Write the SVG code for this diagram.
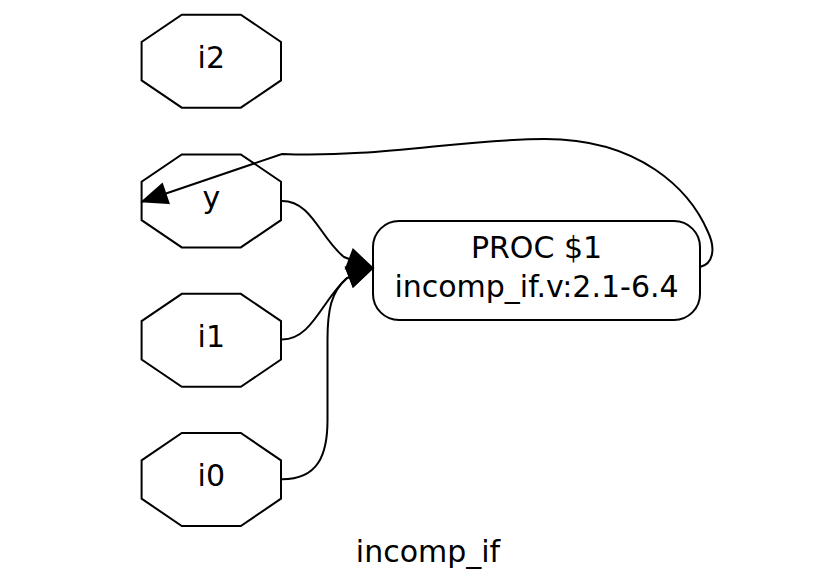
<svg xmlns="http://www.w3.org/2000/svg" width="834" height="580" viewBox="0 0 834 580">
<style>
.oct{fill:#fff;stroke:#000;stroke-width:2}
.box{fill:#fff;stroke:#000;stroke-width:2}
.edge{fill:none;stroke:#000;stroke-width:2}
text{font-family:"DejaVu Sans",sans-serif;font-size:30px;fill:#000;text-anchor:middle}
</style>
<defs>
<polygon id="octShape" points="-29.5,-46.5 29.5,-46.5 69.7,-19.2 69.7,19.2 29.5,46.5 -29.5,46.5 -69.7,19.2 -69.7,-19.2"/>
<marker id="arr" markerUnits="userSpaceOnUse" viewBox="0 0 26 21" refX="26" refY="10.5" markerWidth="26" markerHeight="21" orient="auto" overflow="visible">
<path d="M1,0.5 L25,10.5 L1,20.5 z" fill="#000" stroke="#000" stroke-width="2" stroke-linejoin="miter"/>
</marker>
</defs>
<rect width="834" height="580" fill="#fff"/>
<g id="i2">
<use href="#octShape" class="oct" x="211.3" y="61.2"/>
<text x="211.3" y="68.3">i2</text>
</g>
<g id="y">
<use href="#octShape" class="oct" x="211.3" y="200.9"/>
<text x="211.3" y="207.5">y</text>
</g>
<g id="i1">
<use href="#octShape" class="oct" x="211.3" y="340.3"/>
<text x="211.3" y="347">i1</text>
</g>
<g id="i0">
<use href="#octShape" class="oct" x="211.3" y="479.5"/>
<text x="211.3" y="486.3">i0</text>
</g>
<g id="proc">
<rect class="box" x="373" y="221" width="327" height="99" rx="26" ry="26"/>
<text x="536.5" y="258.3">PROC $1</text>
<text x="536.5" y="296.7">incomp_if.v:2.1-6.4</text>
</g>
<g id="connectors">
<path class="edge" d="M282,201 C312,201 320,238 344,257 L373,268" marker-end="url(#arr)"/>
<path class="edge" d="M282,339.5 C312,339.5 322,300 347,278 L373,268" marker-end="url(#arr)"/>
<path class="edge" d="M282,479.3 C318,479.3 327.5,455 327.5,420 L327.5,340 C327.5,310 331,292 347,278 L373,268" marker-end="url(#arr)"/>
<path class="edge" d="M700,267 C713,264 716,249 708,232 C690,190 640,139 545,139 C460,139 380,158 282,154 L141.7,201.7" marker-end="url(#arr)"/>
</g>
<text x="428" y="562">incomp_if</text>
</svg>
